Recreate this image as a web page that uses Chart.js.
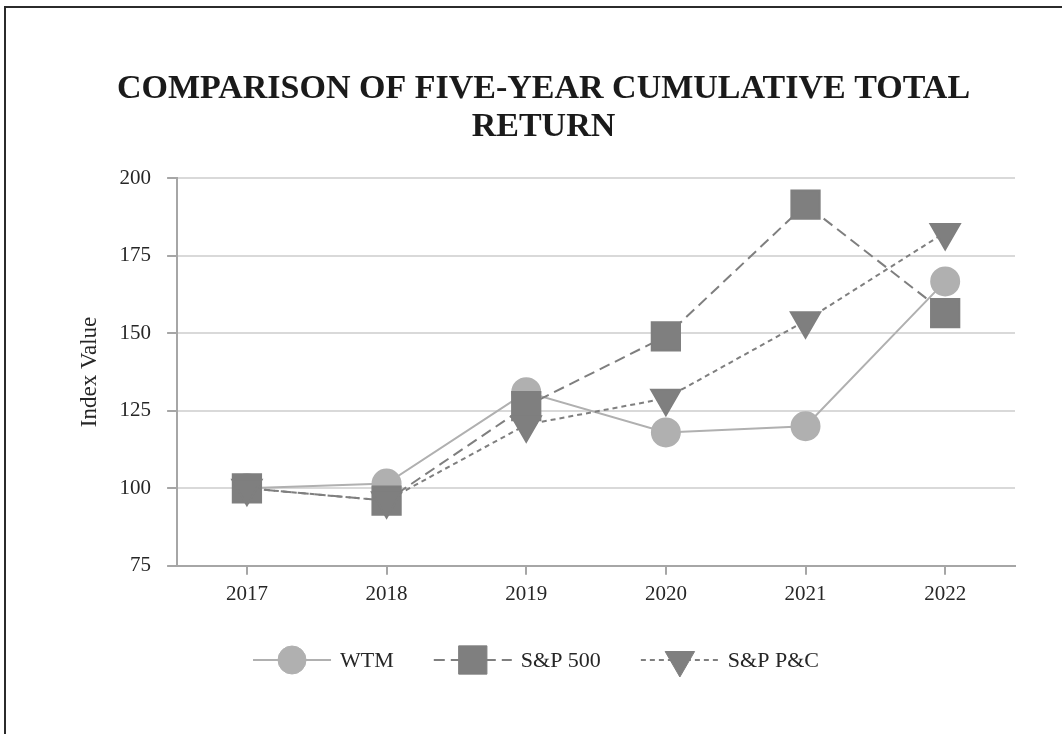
<!DOCTYPE html>
<html>
<head>
<meta charset="utf-8">
<title>Comparison of five-year cumulative total return</title>
<script src="https://cdn.jsdelivr.net/npm/chart.js@4.4.0/dist/chart.umd.min.js"></script>
<style>
  body { margin: 0; background: #fff; overflow: hidden; }
  .wrap { position: relative; width: 1062px; height: 734px; overflow: hidden; }
  /* outer frame, only top + left show in the picture */
  .frame { position: absolute; left: 4px; top: 6px; right: -20px; bottom: -20px;
           border: 2px solid #2b2b2b; pointer-events: none; }
  canvas { display: block; }
</style>
</head>
<body>
<div class="wrap">
  <canvas id="returnChart" width="1062" height="734"></canvas>
  <div class="frame"></div>
</div>
<script>
// data
const years = ['2017', '2018', '2019', '2020', '2021', '2022'];
const wtm = [100, 101.5, 131, 118, 120, 166.7];
const sp500 = [100, 96, 126.5, 149, 191.5, 156.5];
const spPC = [100, 96, 120.5, 129, 154, 182.5];
const yTicks = [75, 100, 125, 150, 175, 200];
const seriesNames = ['WTM', 'S&P 500', 'S&P P&C'];

const serif = 'Liberation Serif, Times New Roman, serif';
const textColor = '#262626';
const axisGray = '#a6a6a6';

// legend = short line with the marker in the middle, like excel does it
const lineLegend = {
  id: 'lineLegend',
  afterDraw(chart) {
    const ctx = chart.ctx;
    const y = 660;
    const segLen = 78, textGap = 9, itemGap = 40;
    ctx.save();
    ctx.font = '22px ' + serif;
    let total = 0;
    chart.data.datasets.forEach(function(ds, i) {
      total += segLen + textGap + ctx.measureText(ds.label).width;
      if (i > 0) total += itemGap;
    });
    let x = chart.width / 2 + 5 - total / 2;
    chart.data.datasets.forEach(function(ds) {
      ctx.strokeStyle = ds.borderColor;
      ctx.lineWidth = ds.borderWidth;
      ctx.setLineDash(ds.borderDash || []);
      ctx.beginPath();
      ctx.moveTo(x, y);
      ctx.lineTo(x + segLen, y);
      ctx.stroke();
      ctx.setLineDash([]);
      ctx.fillStyle = ds.pointBackgroundColor;
      ctx.strokeStyle = ds.pointBackgroundColor;
      ctx.lineWidth = 1;
      Chart.helpers.drawPoint(ctx, {
        pointStyle: ds.pointStyle,
        rotation: ds.pointRotation || 0,
        radius: ds.pointRadius,
        borderWidth: 1
      }, x + segLen / 2, y);
      ctx.fillStyle = textColor;
      ctx.textBaseline = 'middle';
      ctx.textAlign = 'left';
      ctx.fillText(ds.label, x + segLen + textGap, y + 1);
      x += segLen + textGap + ctx.measureText(ds.label).width + itemGap;
    });
    ctx.restore();
  }
};

const ctx = document.getElementById('returnChart').getContext('2d');
const returnChart = new Chart(ctx, {
  type: 'line',
  data: {
    labels: years,
    datasets: [{
      label: seriesNames[0],
      data: wtm,
      borderColor: '#b0b0b0',
      borderWidth: 2,
      pointStyle: 'circle',
      pointRadius: 14,
      pointBackgroundColor: '#b0b0b0',
      pointBorderColor: '#b0b0b0',
      order: 3
    }, {
      label: seriesNames[1],
      data: sp500,
      borderColor: '#7f7f7f',
      borderWidth: 2,
      borderDash: [11, 6],
      pointStyle: 'rect',
      pointRadius: 20,
      pointBackgroundColor: '#7f7f7f',
      pointBorderColor: '#7f7f7f',
      order: 2
    }, {
      label: seriesNames[2],
      data: spPC,
      borderColor: '#7f7f7f',
      borderWidth: 2,
      borderDash: [5, 4],
      pointStyle: 'triangle',
      pointRotation: 180,
      pointRadius: 17,
      pointBackgroundColor: '#7f7f7f',
      pointBorderColor: '#7f7f7f',
      order: 1
    }]
  },
  options: {
    responsive: false,
    animation: false,
    layout: { padding: { left: 72, right: 47, top: 0, bottom: 120 } },
    plugins: {
      legend: { display: false },
      tooltip: { enabled: false },
      title: {
        display: true,
        text: ['COMPARISON OF FIVE-YEAR CUMULATIVE TOTAL', 'RETURN'],
        color: '#1a1a1a',
        font: { family: serif, size: 34, weight: 'bold', lineHeight: 1.12 },
        padding: { top: 70, bottom: 32 }
      }
    },
    scales: {
      x: {
        offset: true,
        grid: { drawOnChartArea: false, tickLength: 9, tickColor: axisGray, lineWidth: 2 },
        border: { color: axisGray, width: 2 },
        ticks: { color: textColor, font: { family: serif, size: 21 }, padding: 7 }
      },
      y: {
        min: yTicks[0],
        max: yTicks[yTicks.length - 1],
        afterBuildTicks: function(scale) {
          scale.ticks = yTicks.map(function(v) { return { value: v }; });
        },
        grid: { color: '#d9d9d9', lineWidth: 2, tickLength: 10, tickColor: axisGray },
        border: { color: axisGray, width: 2 },
        ticks: { color: textColor, font: { family: serif, size: 21 }, padding: 16 },
        title: {
          display: true,
          text: 'Index Value',
          color: textColor,
          font: { family: serif, size: 23 },
          padding: { top: 4, bottom: 0 }
        }
      }
    }
  },
  plugins: [lineLegend]
});
</script>
</body>
</html>
